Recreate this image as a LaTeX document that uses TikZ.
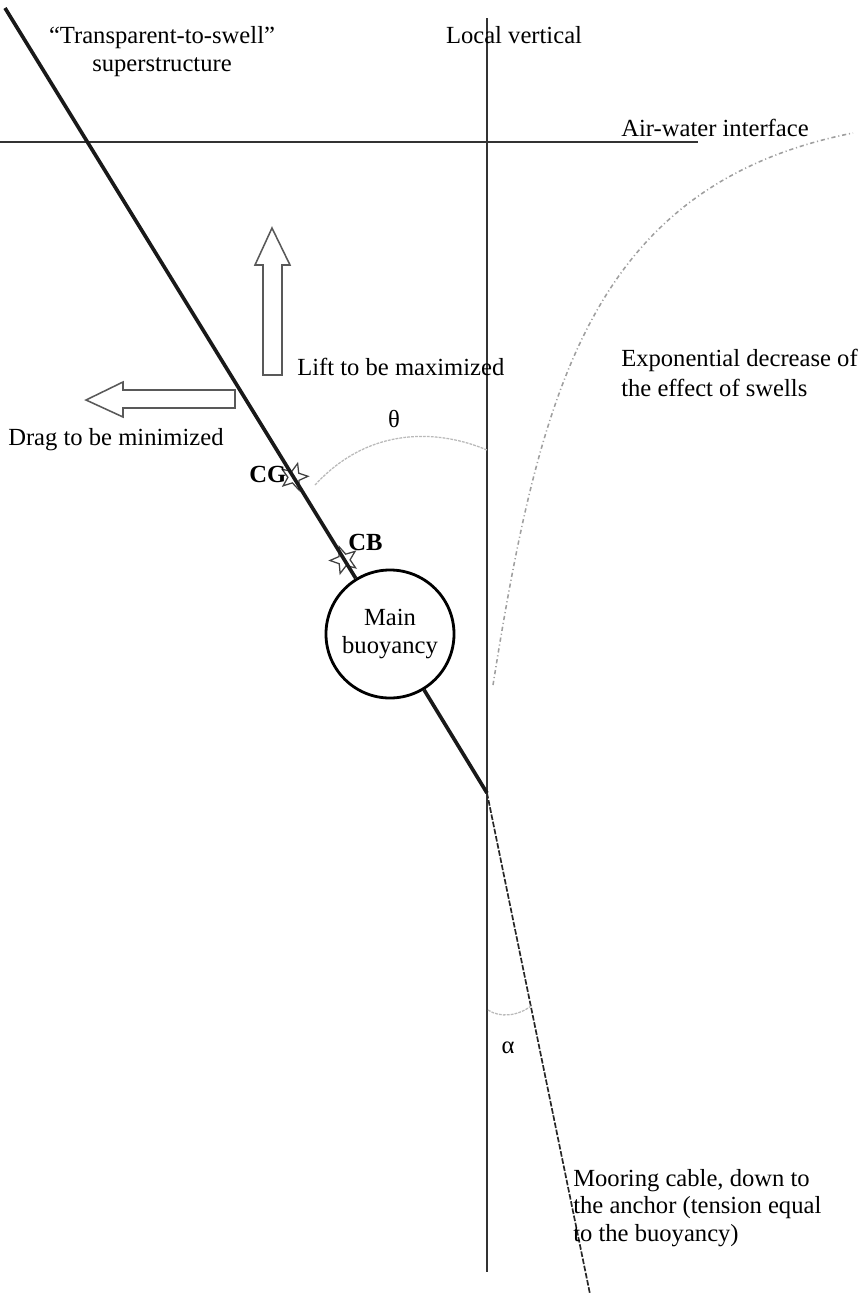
\documentclass[tikz,border=0pt]{standalone}
\usepackage{fontspec}
\setmainfont{Liberation Serif}
\usetikzlibrary{shapes.geometric,positioning,calc}

\begin{document}
\begin{tikzpicture}[
    x=0.025cm, y=-0.025cm,
    every node/.style={font=\fontsize{17.5}{20}\selectfont, inner sep=0pt},
    hull/.style={line width=2.6pt, black!90},
    axis/.style={line width=1.2pt, black!80},
    cable/.style={line width=1.2pt, black!85, dash pattern=on 4pt off 1.2pt},
    angarc/.style={line width=0.9pt, gray!55, dash pattern=on 2pt off 0.8pt},
    swell/.style={line width=1.1pt, gray!75, dash pattern=on 3pt off 2pt on 0.8pt off 2pt},
    force/.style={draw=black!65, line width=1.1pt, fill=white, line join=miter},
    buoy/.style={circle, draw, line width=2pt, minimum size=3.2cm, align=center,
        font=\fontsize{17.5}{19.5}\selectfont},
    cpoint/.style={star, star points=5, star point ratio=2.3, draw=black!75,
        line width=0.9pt, minimum size=0.7cm},
    lbl/.style={align=left, anchor=west}
]
    \useasboundingbox (0,0) rectangle (860,1296);

    \coordinate (top) at (5,8);
    \coordinate (pivot) at (487,793);
    \coordinate (anchor) at (590,1294);
    \coordinate (vtop) at (487,18);
    \coordinate (vbot) at (487,1272);
    \coordinate (wl) at (0,142);
    \coordinate (wr) at (698,142);
    \coordinate (swlow) at (493,685);
    \coordinate (swhigh) at (853,133);

    \node[buoy] (buoy) at (390,634) {Main\\buoyancy};

    \node[cpoint, rotate=-15] (cg) at (294,477) {};
    \node[cpoint, rotate=20] (cb) at (344,560) {};

    % axes and structure
    \draw[axis] (vtop) -- (vbot);
    \draw[axis] (wl) -- (wr);
    \draw[hull] (top) -- (buoy);
    \draw[hull] (buoy) -- (pivot);
    \draw[cable] (pivot) -- (anchor);

    % forces
    \draw[force] (263,375) -- (263,265) -- (255,265) -- (272,228) -- (290,265)
        -- (282,265) -- (282,375) -- cycle;
    \draw[force] (235,390) -- (123,390) -- (123,382) -- (86,400) -- (123,417)
        -- (123,408) -- (235,408) -- cycle;

    % angles
    \draw[angarc] (315,485) .. controls (370,425) and (440,430) .. (487,450);
    \draw[angarc] (488,1010) .. controls (500,1018) and (518,1016) .. (531,1006);

    \draw[swell] (swlow) .. controls (540,390) and (592,185) .. (swhigh);

    % labels
    \node[align=center] (sup) at (162,52) {“Transparent-to-swell”\\superstructure};
    \node (lv) at (514,35) {Local vertical};
    \node (awi) at (715,128) {Air-water interface};
    \node[lbl] (lift) at (297,367) {Lift to be maximized};
    \node[lbl] (drag) at (8,440) {Drag to be minimized};
    \node (theta) at (394,419) {θ};
    \node[font=\fontsize{17.5}{20}\selectfont\bfseries, left=-1pt of cg] (cglbl) {CG};
    \node[font=\fontsize{17.5}{20}\selectfont\bfseries, anchor=west] (cblbl) at (348,542) {CB};
    \node[lbl, font=\fontsize{17.5}{21.5}\selectfont] (expo) at (621,373)
        {Exponential decrease of\\the effect of swells};
    \node (alpha) at (508,1048) {α};
    \node[lbl, font=\fontsize{17.5}{19.5}\selectfont] (moor) at (573,1208)
        {Mooring cable, down to\\the anchor (tension equal\\to the buoyancy)};
\end{tikzpicture}
\end{document}
